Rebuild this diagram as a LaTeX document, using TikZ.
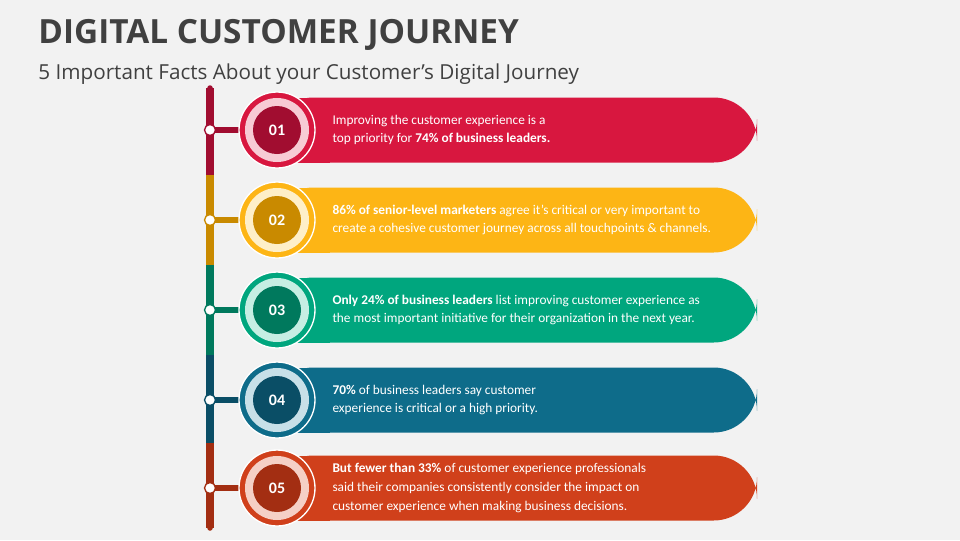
\documentclass[tikz,border=0pt]{standalone}
\usepackage{fontspec}
\setmainfont{Carlito}
\newfontfamily\headfont{Open Sans}
\definecolor{bgc}{HTML}{F2F2F2}
\definecolor{redA}{HTML}{D8173F}\definecolor{redB}{HTML}{A10D30}\definecolor{redC}{HTML}{F7CBD4}
\definecolor{yelA}{HTML}{FDB515}\definecolor{yelB}{HTML}{C98A00}\definecolor{yelC}{HTML}{FEEFC8}
\definecolor{grnA}{HTML}{00A67E}\definecolor{grnB}{HTML}{00795D}\definecolor{grnC}{HTML}{C6EEE3}
\definecolor{bluA}{HTML}{0E6C8A}\definecolor{bluB}{HTML}{0A4E66}\definecolor{bluC}{HTML}{C8E0E8}
\definecolor{orgA}{HTML}{D0401B}\definecolor{orgB}{HTML}{A32E12}\definecolor{orgC}{HTML}{F5D0C6}
\tikzset{every picture/.style={line width=0.75pt},
  facttext/.style={anchor=west,inner sep=0pt,align=left,text=white,font=\fontsize{10}{14}\selectfont},
  numtext/.style={text=white,font=\fontsize{12}{14}\selectfont\bfseries}}
\begin{document}
\begin{tikzpicture}[x=0.75pt,y=0.75pt,yscale=-1,xscale=1]
    \fill[bgc] (0,0) rectangle (960,540);
    \useasboundingbox (0,0) rectangle (960,540);

    % Title
    \node[anchor=west,inner sep=0pt,text={rgb,255:red,64;green,64;blue,64},font=\headfont\fontsize{25}{28}\selectfont\bfseries] (title) at (38,35) {DIGITAL CUSTOMER JOURNEY};
    \node[anchor=west,inner sep=0pt,text={rgb,255:red,64;green,64;blue,64},font=\headfont\fontsize{15.5}{18}\selectfont] (subtitle) at (38,74) {5 Important Facts About your Customer’s Digital Journey};

    % Rows
    \foreach \y/\ca/\cb/\cc/\n/\ytop/\ybot/\txt in {
      130/redA/redB/redC/01/88/175/{Improving the customer experience is a\\top priority for \textbf{74\% of business leaders.}},
      220/yelA/yelB/yelC/02/175/265/{\textbf{86\% of senior-level marketers} agree it's critical or very important to\\create a cohesive customer journey across all touchpoints \& channels.},
      310/grnA/grnB/grnC/03/265/355/{\textbf{Only 24\% of business leaders} list improving customer experience as\\the most important initiative for their organization in the next year.},
      400/bluA/bluB/bluC/04/355/443/{\textbf{70\%} of business leaders say customer\\experience is critical or a high priority.},
      488/orgA/orgB/orgC/05/443/528/{\textbf{But fewer than 33\%} of customer experience professionals\\said their companies consistently consider the impact on\\customer experience when making business decisions.}}{
      % timeline piece
      \draw[\cb,line width=5.5pt] (210,\ytop) -- (210,\ybot);
      % bar
      \fill[\ca,rounded corners=32.5pt] (270,\y-32.5) -- (757,\y-32.5) -- (757,\y+32.5) -- (270,\y+32.5) -- cycle;
      \fill[\ca] (270,\y-32.5) rectangle (330,\y+32.5);
      % stub and dot
      \draw[\cb,line width=5pt] (210,\y) -- (250,\y);
      \fill[white,draw=\cb,line width=1pt] (210,\y) circle (5.5);
      % rings
      \fill[\ca,draw=white,line width=1pt] (277,\y) circle (38);
      \fill[\cc] (277,\y) circle (32);
      \fill[\cb] (277,\y) circle (24);
      \node[numtext] (n\n) at (277,\y) {\n};
      \node[facttext] (t\n) at (332,\y) {\txt};
    }
    \fill[redB] (210,88) circle (2.75);
    \fill[orgB] (210,528) circle (2.75);
\end{tikzpicture}
\end{document}
